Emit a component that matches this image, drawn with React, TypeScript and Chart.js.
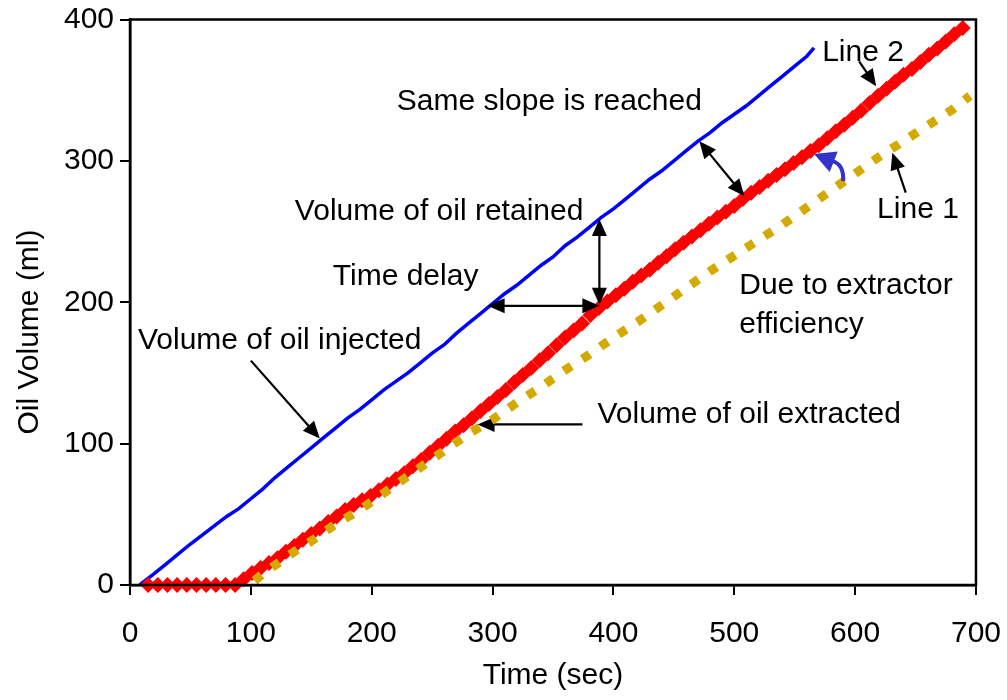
import React, { useEffect, useRef } from 'react';
import { Chart, registerables } from 'chart.js';

Chart.register(...registerables);

// ---- data (time in sec, volume in ml) ----
const injectedTime = [8, 20, 30, 40, 50, 60, 70, 80, 90, 100, 110, 120, 130, 140, 150, 160, 170, 180, 190, 200, 210, 220, 230, 240, 250, 260, 270, 280, 290, 300, 310, 320, 330, 340, 350, 360, 370, 380, 390, 400, 410, 420, 430, 440, 450, 460, 470, 480, 490, 500, 510, 520, 530, 540, 550, 560, 566];
const injectedVolume = [0, 8, 15, 22, 29, 35.5, 42, 48.5, 54, 61, 68, 76, 83, 90, 97, 104, 111, 118, 124, 131, 138, 144, 150, 157, 164, 170, 178, 185, 192, 199, 206, 212, 219, 226, 232, 240, 246, 253, 260, 266, 273, 280, 287, 293, 300, 307, 314, 320, 327, 333, 339, 346, 353, 360, 367, 374, 380];

const line2Time = [15, 23, 31, 39, 47, 55, 63, 71, 79, 87, 94, 101, 108, 115, 122, 129, 136, 143, 150, 157, 164, 171, 178, 185, 192, 199, 206, 213, 220, 227, 234, 241, 248, 255, 262, 269, 276, 283, 290, 297, 304, 311, 318, 325, 332, 339, 346, 353, 360, 367, 374, 381, 388, 395, 402, 409, 416, 423, 430, 437, 444, 451, 458, 465, 472, 479, 486, 493, 500, 507, 514, 521, 528, 535, 542, 549, 556, 563, 570, 577, 584, 591, 598, 605, 612, 619, 626, 633, 640, 647, 654, 661, 668, 675, 682, 689];
const line2Volume = [0, 0, 0, 0, 0, 0, 0, 0, 0, 0, 4, 8.5, 12, 15.5, 19, 23.5, 27.5, 32, 36, 40, 44.5, 48.5, 53, 56.5, 60, 63, 67, 71, 75, 79, 84, 88.5, 93.5, 98.5, 103.5, 108.5, 113, 118, 123, 128, 133, 138, 143.5, 148.5, 153.5, 159, 164, 169.5, 175, 180, 185, 191, 196, 200.5, 205, 209.5, 214.5, 219, 223, 228, 232.5, 237.5, 242, 246.5, 251, 255.5, 260, 264, 268, 273, 277.5, 281.5, 286, 290, 294, 298.5, 302.5, 307, 311, 316, 321, 325.5, 330.5, 335.5, 341, 346, 351, 356, 361, 365, 370, 375, 379.5, 384.5, 389.5, 394];

const extractedTime = [103, 110, 120, 130, 140, 150, 160, 170, 180, 190, 200, 210, 220, 230, 240, 250, 260, 270, 280, 290, 300, 320, 340, 360, 380, 400, 420, 440, 460, 480, 500, 520, 540, 560, 580, 600, 620, 640, 660, 680, 695];
const extractedVolume = [3, 8, 14, 20, 26, 31, 37, 43, 48, 53, 59, 65, 71, 77, 83, 89, 95, 101, 107, 112, 117, 129, 140, 152, 163, 175, 186, 198, 210, 222, 233, 244, 255, 267, 279, 291, 303, 314, 325, 336, 346];

const xTicks = [0, 100, 200, 300, 400, 500, 600, 700];
const yTicks = [0, 100, 200, 300, 400];

// ---- annotations (in data coordinates) ----
const noteTexts = ['Same slope is reached', 'Volume of oil retained', 'Time delay', 'Volume of oil injected', 'Due to extractor', 'efficiency', 'Volume of oil extracted', 'Line 2', 'Line 1'];
const noteX = [220.7, 136.4, 167.8, 6.6, 504.1, 504.1, 386.8, 572.7, 618.2];
const noteY = [335.8, 258.2, 212.3, 167.2, 206.0, 178.5, 114.3, 370.4, 259.6];

type Arrow = { x1: number; y1: number; x2: number; y2: number; both: boolean; behind?: boolean };
const arrows: Arrow[] = [
  { x1: 100.0, y1: 158.7, x2: 157.0, y2: 103.7, both: false },
  { x1: 471.1, y1: 313.9, x2: 508.3, y2: 275.1, both: true },
  { x1: 388.4, y1: 258.9, x2: 388.4, y2: 198.2, both: true },
  { x1: 295.9, y1: 197.5, x2: 388.4, y2: 197.5, both: true },
  { x1: 374.4, y1: 113.6, x2: 287.6, y2: 113.6, both: false, behind: true },
  { x1: 603.3, y1: 370.4, x2: 617.4, y2: 352.7, both: false },
  { x1: 641.9, y1: 277.5, x2: 630.8, y2: 305.7, both: false },
];
// curved blue arrow: start, control, head base, head tip
const curveX = [590.1, 590.9, 581.0, 566.1];
const curveY = [285.7, 297.7, 299.8, 304.8];

const FONT = '"Liberation Sans", Arial, Helvetica, sans-serif';
const FS = 30;

function head(ctx: CanvasRenderingContext2D, bx: number, by: number, tx: number, ty: number, len: number, hw: number) {
  const dx = tx - bx, dy = ty - by;
  const d = Math.hypot(dx, dy) || 1;
  const ux = dx / d, uy = dy / d;
  const baseX = tx - ux * len, baseY = ty - uy * len;
  ctx.beginPath();
  ctx.moveTo(tx, ty);
  ctx.lineTo(baseX - uy * hw, baseY + ux * hw);
  ctx.lineTo(baseX + uy * hw, baseY - ux * hw);
  ctx.closePath();
  ctx.fill();
}

function drawArrow(ctx: CanvasRenderingContext2D, ax: number, ay: number, bx: number, by: number, both: boolean) {
  const len = 17, hw = 7.5;
  const dx = bx - ax, dy = by - ay;
  const d = Math.hypot(dx, dy) || 1;
  const ux = dx / d, uy = dy / d;
  const sx = both ? ax + ux * (len - 2) : ax;
  const sy = both ? ay + uy * (len - 2) : ay;
  const ex = bx - ux * (len - 2), ey = by - uy * (len - 2);
  ctx.beginPath();
  ctx.moveTo(sx, sy);
  ctx.lineTo(ex, ey);
  ctx.stroke();
  head(ctx, ax, ay, bx, by, len, hw);
  if (both) head(ctx, bx, by, ax, ay, len, hw);
}

const notesPlugin = {
  id: 'notes',
  beforeDatasetsDraw(chart: any) {
    const { ctx, scales } = chart;
    const x = scales.x, y = scales.y;
    ctx.save();
    ctx.strokeStyle = '#000';
    ctx.fillStyle = '#000';
    ctx.lineWidth = 2.2;
    arrows.filter(a => a.behind).forEach(a => {
      drawArrow(ctx, x.getPixelForValue(a.x1), y.getPixelForValue(a.y1), x.getPixelForValue(a.x2), y.getPixelForValue(a.y2), a.both);
    });
    ctx.restore();
  },
  afterDatasetsDraw(chart: any) {
    const { ctx, scales, chartArea } = chart;
    const x = scales.x, y = scales.y;
    ctx.save();
    // frame
    ctx.strokeStyle = '#000';
    ctx.lineWidth = 2.5;
    ctx.strokeRect(chartArea.left, chartArea.top, chartArea.right - chartArea.left, chartArea.bottom - chartArea.top);
    // texts
    ctx.fillStyle = '#000';
    ctx.font = `${FS}px ${FONT}`;
    ctx.textAlign = 'left';
    ctx.textBaseline = 'alphabetic';
    noteTexts.forEach((t, i) => ctx.fillText(t, x.getPixelForValue(noteX[i]), y.getPixelForValue(noteY[i])));
    // arrows
    ctx.lineWidth = 2.2;
    arrows.filter(a => !a.behind).forEach(a => {
      drawArrow(ctx, x.getPixelForValue(a.x1), y.getPixelForValue(a.y1), x.getPixelForValue(a.x2), y.getPixelForValue(a.y2), a.both);
    });
    // curved blue arrow
    const px = curveX.map(v => x.getPixelForValue(v));
    const py = curveY.map(v => y.getPixelForValue(v));
    ctx.strokeStyle = '#3333cc';
    ctx.fillStyle = '#3333cc';
    ctx.lineWidth = 4;
    ctx.beginPath();
    ctx.moveTo(px[0], py[0]);
    ctx.quadraticCurveTo(px[1], py[1], px[2], py[2]);
    ctx.stroke();
    head(ctx, px[2], py[2], px[3], py[3], 21, 11);
    // y title
    ctx.fillStyle = '#000';
    ctx.translate(30, 332);
    ctx.rotate(-Math.PI / 2);
    ctx.textAlign = 'center';
    ctx.textBaseline = 'middle';
    ctx.fillText('Oil Volume (ml)', 0, 0);
    ctx.restore();
  },
};

export default function App() {
  const ref = useRef<HTMLCanvasElement>(null);
  useEffect(() => {
    if (!ref.current) return;
    const toPts = (xs: number[], ys: number[]) => xs.map((t, i) => ({ x: t, y: ys[i] }));
    const chart = new Chart(ref.current, {
      type: 'line',
      data: {
        datasets: [
          {
            label: 'Volume of oil extracted',
            data: toPts(extractedTime, extractedVolume),
            borderColor: '#d4aa00',
            borderWidth: 9,
            borderDash: [9, 13],
            borderCapStyle: 'butt',
            pointRadius: 0,
            tension: 0,
            fill: false,
          },
          {
            label: 'Line 2',
            data: toPts(line2Time, line2Volume),
            showLine: false,
            pointStyle: 'rectRot',
            pointRadius: 8,
            pointBackgroundColor: '#ff0000',
            pointBorderColor: '#ff0000',
            pointBorderWidth: 0,
            clip: false,
          },
          {
            label: 'Volume of oil injected',
            data: toPts(injectedTime, injectedVolume),
            borderColor: '#0000ff',
            borderWidth: 3.5,
            pointRadius: 0,
            tension: 0,
            fill: false,
          },
        ],
      } as any,
      options: {
        animation: false,
        responsive: false,
        events: [],
        layout: { padding: { left: 0, top: 13, right: 30, bottom: 0 } },
        plugins: { legend: { display: false }, tooltip: { enabled: false } },
        scales: {
          x: {
            type: 'linear',
            min: 0,
            max: 700,
            afterBuildTicks: (s: any) => { s.ticks = xTicks.map(v => ({ value: v })); },
            afterFit: (s: any) => { s.height = 115; },
            ticks: { color: '#000', font: { family: FONT, size: FS, lineHeight: 2.2 }, padding: 6, maxRotation: 0 },
            grid: { drawOnChartArea: false, drawTicks: true, tickLength: 10, color: '#000', lineWidth: 2 },
            border: { display: true, color: '#000', width: 2.5 },
            title: { display: true, text: 'Time (sec)', color: '#000', font: { family: FONT, size: FS }, padding: { top: 0, bottom: 6 } },
          },
          y: {
            type: 'linear',
            min: 0,
            max: 400,
            afterBuildTicks: (s: any) => { s.ticks = yTicks.map(v => ({ value: v })); },
            afterFit: (s: any) => { s.width = 130; },
            ticks: { color: '#000', font: { family: FONT, size: FS, lineHeight: 0.9 }, padding: 6 },
            grid: { drawOnChartArea: false, drawTicks: true, tickLength: 10, color: '#000', lineWidth: 2 },
            border: { display: true, color: '#000', width: 2.5 },
          },
        },
      } as any,
      plugins: [notesPlugin],
    });
    return () => chart.destroy();
  }, []);
  return (
    <div style={{ position: 'absolute', left: 0, top: 0, width: 1007, height: 700, background: '#fff' }}>
      <canvas ref={ref} width={1007} height={700} style={{ display: 'block' }} />
    </div>
  );
}
